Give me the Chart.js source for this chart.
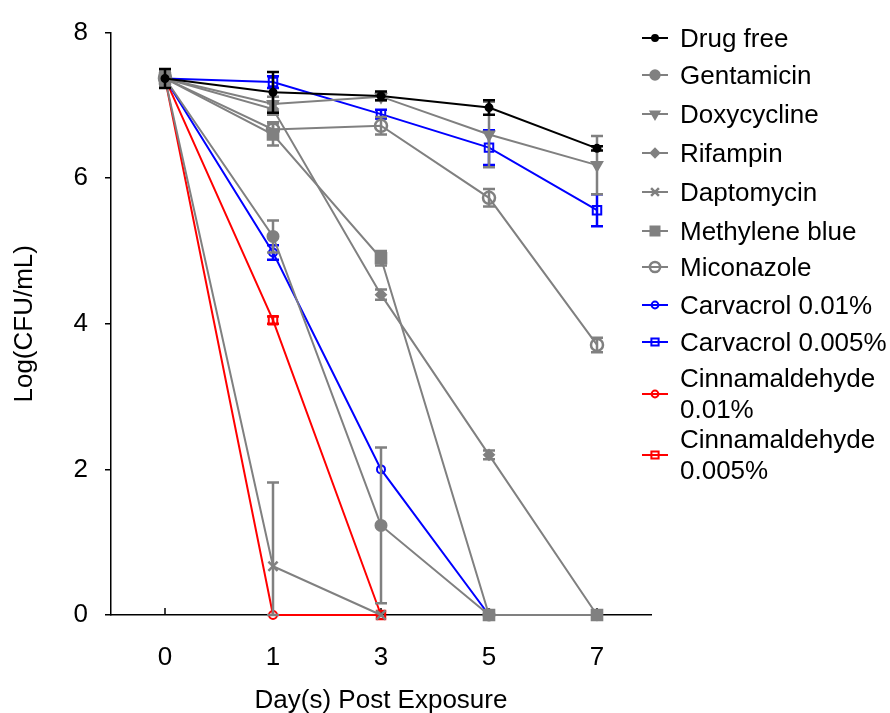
<!DOCTYPE html>
<html>
<head>
<meta charset="utf-8">
<script src="https://cdn.jsdelivr.net/npm/chart.js@4.4.1/dist/chart.umd.min.js"></script>
<style>
  html, body { margin: 0; padding: 0; background: #fff; }
  #wrap { position: relative; width: 890px; height: 713px; overflow: hidden; }
  .item { position: absolute; left: 642px; display: flex; align-items: center;
          font: 26px "Liberation Sans", Arial, sans-serif; line-height: 31px; color: #000; white-space: nowrap; }
  .item canvas { width: 26px; height: 20px; margin-right: 12px; flex: none; }
</style>
</head>
<body>
<div id="wrap">
  <canvas id="chartKill" width="890" height="713"></canvas>
  <div id="legend"></div>
</div>
<script>
// days sampled (category axis, evenly spaced)
const days = ["0", "1", "3", "5", "7"];
const yTicks = [0, 2, 4, 6, 8];

// Log(CFU/mL) means
const drugFree          = [7.37, 7.18, 7.13, 6.97, 6.41];
const gentamicin        = [7.37, 5.20, 1.23, 0, null];
const doxycycline       = [7.37, 7.02, 7.12, 6.60, 6.18];
const rifampin          = [7.37, 6.95, 4.40, 2.20, 0];
const daptomycin        = [7.37, 0.67, 0, null, null];
const methyleneBlue     = [7.37, 6.60, 4.90, 0, 0];
const miconazole        = [7.37, 6.67, 6.72, 5.73, 3.71];
const carvacrol01       = [7.37, 4.98, 2.00, 0, null];
const carvacrol005      = [7.37, 7.32, 6.88, 6.42, 5.56];
const cinnamaldehyde01  = [7.37, 0, 0, null, null];
const cinnamaldehyde005 = [7.37, 4.05, 0, null, null];

// error bars (+/- SD)
const drugFreeSd          = [0.13, 0.28, 0.06, 0.10, 0.03];
const gentamicinSd        = [0.10, 0.22, 1.07, 0, null];
const doxycyclineSd       = [0.10, 0.10, 0.05, 0.45, 0.40];
const rifampinSd          = [0.10, 0.08, 0.07, 0.06, 0];
const daptomycinSd        = [0.10, 1.15, 0, null, null];
const methyleneBlueSd     = [0.10, 0.15, 0.10, 0, 0];
const miconazoleSd        = [0.10, 0.10, 0.12, 0.12, 0.10];
const carvacrol01Sd       = [0.10, 0.10, 0, 0, null];
const carvacrol005Sd      = [0.10, 0.08, 0.06, 0.24, 0.22];
const cinnamaldehyde01Sd  = [0.10, 0, 0, null, null];
const cinnamaldehyde005Sd = [0.10, 0.05, 0, null, null];

const GRAY = '#808080', BLUE = '#0000ff', RED = '#ff0000', NONE = 'rgba(0,0,0,0)';
const FONT = '"Liberation Sans", Arial, sans-serif';

function series(label, data, errors, color, style, radius, fill, extra) {
  return Object.assign({
    label: label,
    data: data,
    errors: errors,
    borderColor: color,
    backgroundColor: color,
    borderWidth: 2,
    pointStyle: style,
    pointRadius: radius,
    pointHoverRadius: radius,
    pointBackgroundColor: fill,
    pointBorderColor: color,
    pointBorderWidth: 2,
    tension: 0,
    spanGaps: false,
    clip: false
  }, extra || {});
}

const datasets = [
  series('Drug free', drugFree, drugFreeSd, '#000', 'circle', 3.5, '#000'),
  series('Gentamicin', gentamicin, gentamicinSd, GRAY, 'circle', 5.5, GRAY),
  series('Doxycycline', doxycycline, doxycyclineSd, GRAY, 'triangle', 6, GRAY, { pointRotation: 180 }),
  series('Rifampin', rifampin, rifampinSd, GRAY, 'rectRot', 5, GRAY),
  series('Daptomycin', daptomycin, daptomycinSd, GRAY, 'crossRot', 6.5, GRAY, { pointBorderWidth: 2.5 }),
  series('Methylene blue', methyleneBlue, methyleneBlueSd, GRAY, 'rect', 7.5, GRAY),
  series('Miconazole', miconazole, miconazoleSd, GRAY, 'circle', 6, NONE, { pointBorderWidth: 2.5 }),
  series('Carvacrol 0.01%', carvacrol01, carvacrol01Sd, BLUE, 'circle', 4, NONE),
  series('Carvacrol 0.005%', carvacrol005, carvacrol005Sd, BLUE, 'rect', 6, NONE),
  series(['Cinnamaldehyde', '0.01%'], cinnamaldehyde01, cinnamaldehyde01Sd, RED, 'circle', 4, NONE),
  series(['Cinnamaldehyde', '0.005%'], cinnamaldehyde005, cinnamaldehyde005Sd, RED, 'rect', 6, NONE)
];

// vertical error bars with caps, drawn right after each dataset
const errorBars = {
  id: 'errorBars',
  afterDatasetDraw(chart, args) {
    const ds = chart.data.datasets[args.index];
    if (!ds.errors) return;
    const ctx = chart.ctx, y = chart.scales.y;
    ctx.save();
    ctx.strokeStyle = ds.borderColor;
    ctx.lineWidth = 2.5;
    args.meta.data.forEach((pt, i) => {
      const v = ds.data[i], e = ds.errors[i];
      if (v == null || !e) return;
      const top = y.getPixelForValue(v + e);
      const bot = y.getPixelForValue(Math.max(0, v - e));
      ctx.beginPath();
      ctx.moveTo(pt.x, top); ctx.lineTo(pt.x, bot);
      ctx.moveTo(pt.x - 6, top); ctx.lineTo(pt.x + 6, top);
      ctx.moveTo(pt.x - 6, bot); ctx.lineTo(pt.x + 6, bot);
      ctx.stroke();
    });
    ctx.restore();
  }
};

// small inward tick marks on the x axis
const innerTicks = {
  id: 'innerTicks',
  beforeDatasetsDraw(chart) {
    const ctx = chart.ctx, x = chart.scales.x, bottom = chart.chartArea.bottom;
    ctx.save();
    ctx.strokeStyle = '#000';
    ctx.lineWidth = 1.5;
    x.ticks.forEach((t, i) => {
      const px = x.getPixelForTick(i);
      ctx.beginPath();
      ctx.moveTo(px, bottom);
      ctx.lineTo(px, bottom - 7);
      ctx.stroke();
    });
    ctx.restore();
  }
};

const chartKill = new Chart(document.querySelector('#chartKill').getContext('2d'), {
  type: 'line',
  data: { labels: days, datasets: datasets },
  plugins: [errorBars, innerTicks],
  options: {
    responsive: false,
    animation: false,
    devicePixelRatio: 1,
    layout: { padding: { left: 0, right: 239, top: 22, bottom: 0 } },
    plugins: { legend: { display: false }, tooltip: { enabled: false } },
    scales: {
      x: {
        type: 'category',
        offset: true,
        afterFit: (s) => { s.height = 98; },
        grid: { display: false, drawTicks: false },
        border: { display: true, color: '#000', width: 1.5 },
        ticks: { color: '#000', padding: 27, font: { family: FONT, size: 26 } },
        title: {
          display: true,
          text: 'Day(s) Post Exposure',
          color: '#000',
          padding: { top: 0, bottom: 0 },
          font: { family: FONT, size: 26, lineHeight: 0.9 }
        }
      },
      y: {
        min: 0,
        max: 8,
        afterFit: (s) => { s.width = 111; },
        afterBuildTicks: (s) => { s.ticks = yTicks.map(v => ({ value: v })); },
        grid: { drawOnChartArea: false, drawTicks: true, tickLength: 6, color: '#000', lineWidth: 1.5 },
        border: { display: true, color: '#000', width: 1.5 },
        ticks: { color: '#000', padding: 17, font: { family: FONT, size: 26 } },
        title: {
          display: true,
          text: 'Log(CFU/mL)',
          color: '#000',
          padding: { top: 9, bottom: 0 },
          font: { family: FONT, size: 26 }
        }
      }
    }
  }
});

// legend: line + marker, text next to it
const legendCentres = [38, 75, 114, 153, 192, 231, 267, 305, 342, 394, 455];
const legendBox = document.querySelector('#legend');
datasets.forEach((ds, i) => {
  const item = document.createElement('div');
  item.className = 'item';
  const lines = Array.isArray(ds.label) ? ds.label : [ds.label];
  item.style.top = (legendCentres[i] - lines.length * 31 / 2) + 'px';
  const c = document.createElement('canvas');
  c.width = 26; c.height = 20;
  const g = c.getContext('2d');
  g.strokeStyle = ds.borderColor;
  g.lineWidth = 2;
  g.beginPath(); g.moveTo(0, 10); g.lineTo(26, 10); g.stroke();
  g.fillStyle = ds.pointBackgroundColor === NONE ? '#fff' : ds.pointBackgroundColor;
  g.lineWidth = ds.pointBorderWidth;
  const opts = { pointStyle: ds.pointStyle, rotation: ds.pointRotation || 0,
                 radius: ds.pointRadius * 0.85, borderWidth: ds.pointBorderWidth };
  if (Chart.helpers && Chart.helpers.drawPoint) {
    Chart.helpers.drawPoint(g, opts, 13, 10);
    if (ds.pointBackgroundColor === NONE) {
      g.beginPath(); g.moveTo(8, 10); g.lineTo(18, 10); g.lineWidth = 2; g.stroke();
    }
  }
  const txt = document.createElement('span');
  txt.innerHTML = lines.join('<br>');
  item.appendChild(c);
  item.appendChild(txt);
  legendBox.appendChild(item);
});
</script>
</body>
</html>
